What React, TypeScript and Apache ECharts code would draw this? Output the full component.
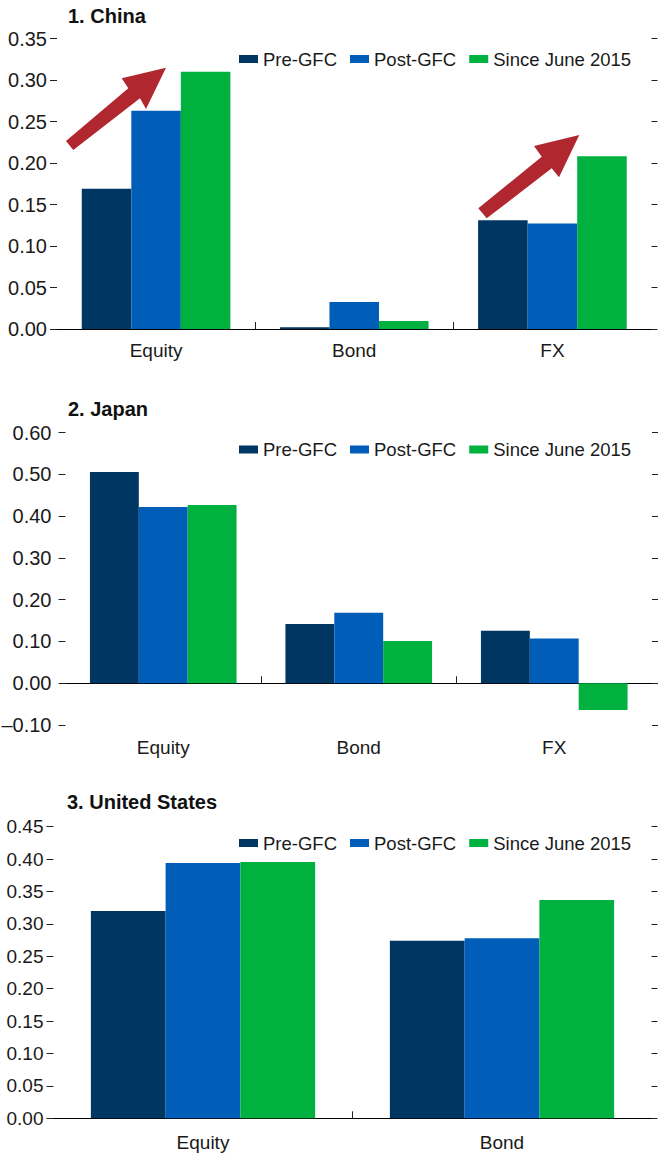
import React, { useEffect, useRef } from 'react';
import * as echarts from 'echarts';

// ---- data ----
const seriesNames = ['Pre-GFC', 'Post-GFC', 'Since June 2015'];
const seriesColors = ['#003662', '#005EB8', '#00B140'];

const chinaCategories = ['Equity', 'Bond', 'FX'];
const chinaPre = [0.169, 0.002, 0.131];
const chinaPost = [0.263, 0.0325, 0.127];
const chinaSince = [0.31, 0.0096, 0.208];
const chinaAxis = [0, 0.35, 0.05]; // min, max, step

const japanCategories = ['Equity', 'Bond', 'FX'];
const japanPre = [0.506, 0.142, 0.126];
const japanPost = [0.422, 0.169, 0.107];
const japanSince = [0.427, 0.101, -0.064];
const japanAxis = [-0.1, 0.6, 0.1];

const usCategories = ['Equity', 'Bond'];
const usPre = [0.32, 0.274];
const usPost = [0.394, 0.278];
const usSince = [0.3955, 0.337];
const usAxis = [0, 0.45, 0.05];

const panelTitles = ['1. China', '2. Japan', '3. United States'];

// ---- styles / layout ----
const FONT_N = '"Liberation Sans Narrow", "Arial Narrow", "Liberation Sans", Arial, sans-serif';
const FONT = '"Liberation Sans", Arial, sans-serif';
const ARROW = '#B0272F';

const layouts = [
  { left: 57, right: 6.5, top: 38.5, height: 290.5, titleTop: 5.8, titleLeft: 68, legendTop: 49.5, labelMargin: 12, yFont: 20, yMargin: 10 },
  { left: 65.5, right: 6, top: 432.7, height: 292.3, titleTop: 398.8, titleLeft: 68, legendTop: 440, labelMargin: 13, yFont: 20, yMargin: 14 },
  { left: 53.5, right: 6.5, top: 826.7, height: 291.6, titleTop: 792, titleLeft: 67, legendTop: 833.5, labelMargin: 14.5, yFont: 19, yMargin: 10 },
];

const arrows = [
  [[66, 141], [128.3, 88.3], [121.7, 78.3], [166, 67.7], [146, 109], [140, 98.3], [73.3, 150]],
  [[478.3, 208.3], [541.7, 156.7], [534, 146], [579.3, 135], [559, 177.3], [551.7, 168.3], [486.7, 218.3]],
];

function fmt(v: number) {
  const s = Math.abs(v).toFixed(2);
  return v < -1e-9 ? '\u2013' + s : s;
}

function buildOption() {
  const panels = [
    { cats: chinaCategories, values: [chinaPre, chinaPost, chinaSince], axis: chinaAxis },
    { cats: japanCategories, values: [japanPre, japanPost, japanSince], axis: japanAxis },
    { cats: usCategories, values: [usPre, usPost, usSince], axis: usAxis },
  ];
  const grid: any[] = [];
  const xAxis: any[] = [];
  const yAxis: any[] = [];
  const series: any[] = [];
  const legend: any[] = [];
  const title: any[] = [];

  panels.forEach((p, i) => {
    const L = layouts[i];
    grid.push({ left: L.left, right: L.right, top: L.top, height: L.height, containLabel: false, outerBoundsMode: 'none' });
    // category axis: labels only
    xAxis.push({
      type: 'category', gridIndex: i, data: p.cats, position: 'bottom',
      axisLine: { show: false, onZero: false }, axisTick: { show: false },
      axisLabel: { show: true, margin: L.labelMargin, color: '#1a1a1a', fontFamily: FONT_N, fontSize: 19, lineHeight: 19 },
      splitLine: { show: false },
    });
    // helper value axis: baseline at zero + inner boundary ticks
    const boundaries = p.cats.slice(1).map((_, k) => k + 1);
    xAxis.push({
      type: 'value', gridIndex: i, min: 0, max: p.cats.length, interval: 1, position: 'bottom',
      axisLine: { show: true, onZero: true, lineStyle: { color: '#000', width: 1.2 } },
      axisTick: { show: true, inside: true, length: 7, customValues: boundaries, lineStyle: { color: '#222', width: 1 } },
      axisLabel: { show: false }, splitLine: { show: false },
    });
    const [mn, mx, st] = p.axis;
    yAxis.push({
      type: 'value', gridIndex: i, position: 'left', min: mn, max: mx, interval: st,
      axisLine: { show: false }, splitLine: { show: false },
      axisTick: { show: true, inside: false, length: 7, lineStyle: { color: '#222', width: 1 } },
      axisLabel: { show: true, margin: L.yMargin, formatter: fmt, color: '#1a1a1a', fontFamily: FONT, fontSize: L.yFont },
    });
    yAxis.push({
      type: 'value', gridIndex: i, position: 'right', min: mn, max: mx, interval: st,
      axisLine: { show: false }, splitLine: { show: false },
      axisTick: { show: true, inside: false, length: 6, lineStyle: { color: '#222', width: 1 } },
      axisLabel: { show: false },
    });
    p.values.forEach((vals, k) => {
      series.push({
        type: 'bar', name: seriesNames[k], xAxisIndex: 2 * i, yAxisIndex: 2 * i,
        data: vals, barGap: '0%', barCategoryGap: '25%',
        itemStyle: { color: seriesColors[k] },
      });
    });
    legend.push({
      left: 239, top: L.legendTop, padding: 0, itemWidth: 19, itemHeight: 8, itemGap: 13,
      icon: 'rect', data: seriesNames, selectedMode: false, orient: 'horizontal', width: 419,
      textStyle: { fontFamily: FONT_N, fontSize: 18.5, lineHeight: 19, color: '#1a1a1a' },
    });
    title.push({
      text: panelTitles[i], left: L.titleLeft, top: L.titleTop, padding: 0,
      textStyle: { fontFamily: FONT, fontSize: 20, fontWeight: 'bold', color: '#111', lineHeight: 20 },
    });
  });

  const graphic = arrows.map((pts) => ({
    type: 'polygon', shape: { points: pts }, style: { fill: ARROW }, z: 100,
  }));

  return { animation: false, backgroundColor: '#fff', grid, xAxis, yAxis, series, legend, title, graphic };
}

export default function App() {
  const ref = useRef<HTMLDivElement>(null);
  useEffect(() => {
    document.body.style.margin = '0';
    if (!ref.current) return;
    const chart = echarts.init(ref.current, undefined, { renderer: 'svg' });
    chart.setOption(buildOption() as any);
    return () => chart.dispose();
  }, []);
  return <div ref={ref} style={{ width: 658, height: 1154 }} />;
}
